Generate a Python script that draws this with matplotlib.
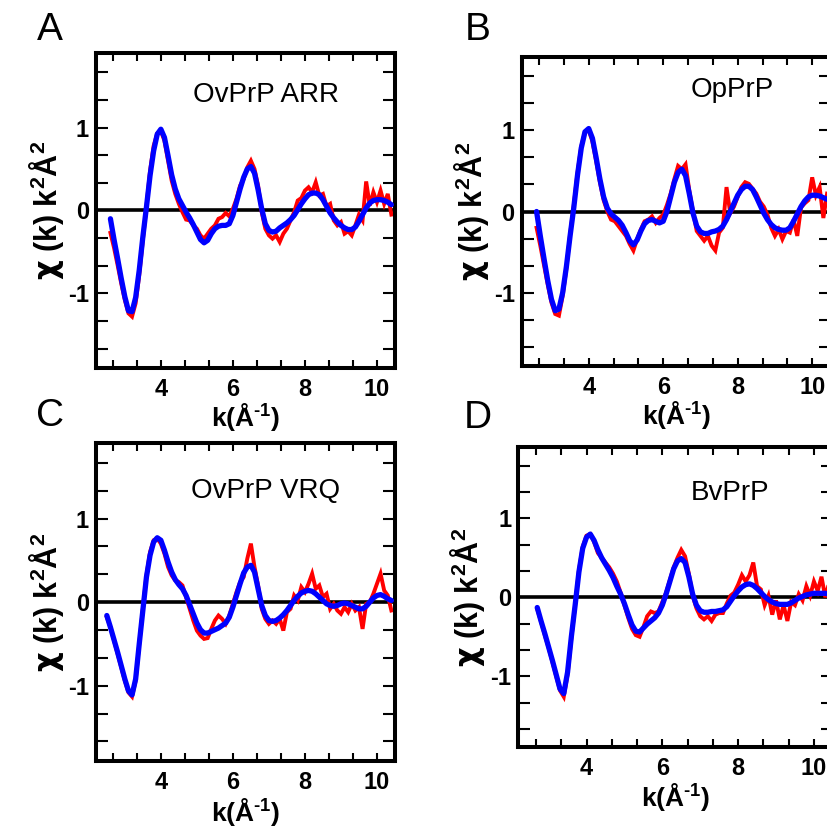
import numpy as np
import matplotlib
matplotlib.use("Agg")
import matplotlib.pyplot as plt
from matplotlib.ticker import MultipleLocator, FixedLocator

plt.rcParams['font.family'] = ['Liberation Sans', 'DejaVu Sans']
plt.rcParams['mathtext.fontset'] = 'custom'
plt.rcParams['mathtext.rm'] = 'Liberation Sans:bold'
plt.rcParams['mathtext.bf'] = 'Liberation Sans:bold'
plt.rcParams['mathtext.sf'] = 'DejaVu Sans:bold'
plt.rcParams['mathtext.default'] = 'rm'

# EXAFS chi(k)*k^2 : experimental (red) and fit (blue), sampled every 0.1 A^-1
panel_letters = ["A", "B", "C", "D"]
panel_titles = ["OvPrP ARR", "OpPrP", "OvPrP VRQ", "BvPrP"]
k_start = [2.6, 2.6, 2.5, 2.7]

fit_A = [-0.10, -0.35, -0.58, -0.82, -1.04, -1.21, -1.22, -1.05, -0.72, -0.32,
         0.04, 0.42, 0.72, 0.92, 0.98, 0.88, 0.66, 0.43, 0.26, 0.14,
         0.06, -0.02, -0.09, -0.17, -0.26, -0.35, -0.39, -0.36, -0.28, -0.22,
         -0.19, -0.18, -0.18, -0.16, -0.06, 0.10, 0.26, 0.40, 0.50, 0.53,
         0.45, 0.25, 0.02, -0.16, -0.24, -0.26, -0.25, -0.21, -0.18, -0.15,
         -0.11, -0.06, 0.01, 0.08, 0.14, 0.19, 0.21, 0.21, 0.19, 0.13,
         0.05, -0.03, -0.09, -0.14, -0.18, -0.21, -0.23, -0.23, -0.20, -0.13,
         -0.05, 0.03, 0.09, 0.12, 0.13, 0.13, 0.12, 0.10, 0.07]
exp_A = [-0.27, -0.45, -0.66, -0.88, -1.08, -1.24, -1.28, -1.12, -0.78, -0.36,
         0.05, 0.48, 0.78, 0.93, 0.96, 0.84, 0.60, 0.36, 0.20, 0.08,
         -0.02, -0.11, -0.12, -0.18, -0.22, -0.30, -0.34, -0.28, -0.22, -0.18,
         -0.10, -0.08, -0.03, -0.07, 0.02, 0.14, 0.30, 0.38, 0.52, 0.60,
         0.50, 0.30, -0.02, -0.22, -0.30, -0.34, -0.30, -0.38, -0.28, -0.22,
         -0.12, -0.02, 0.12, 0.15, 0.24, 0.28, 0.22, 0.34, 0.18, 0.20,
         0.05, 0.08, -0.12, -0.18, -0.14, -0.28, -0.25, -0.30, -0.18, -0.05,
         -0.12, 0.35, 0.06, 0.22, 0.10, 0.24, 0.08, 0.20, -0.05]

fit_B = [0.00, -0.30, -0.58, -0.85, -1.08, -1.22, -1.20, -1.00, -0.68, -0.30,
         0.05, 0.45, 0.78, 0.98, 1.02, 0.90, 0.66, 0.40, 0.18, 0.04,
         -0.03, -0.07, -0.11, -0.17, -0.26, -0.36, -0.41, -0.35, -0.24, -0.15,
         -0.11, -0.10, -0.12, -0.14, -0.12, 0.00, 0.18, 0.36, 0.48, 0.52,
         0.44, 0.22, -0.02, -0.18, -0.25, -0.27, -0.27, -0.25, -0.24, -0.22,
         -0.18, -0.10, 0.00, 0.10, 0.20, 0.27, 0.31, 0.31, 0.27, 0.18,
         0.08, -0.02, -0.10, -0.16, -0.20, -0.22, -0.23, -0.23, -0.20, -0.12,
         -0.03, 0.06, 0.13, 0.18, 0.20, 0.20, 0.19, 0.17, 0.15]
exp_B = [-0.20, -0.42, -0.66, -0.90, -1.12, -1.26, -1.28, -1.04, -0.70, -0.28,
         0.08, 0.48, 0.80, 0.98, 1.00, 0.86, 0.62, 0.36, 0.14, 0.00,
         -0.10, -0.12, -0.18, -0.24, -0.30, -0.40, -0.48, -0.34, -0.22, -0.12,
         -0.10, -0.06, -0.14, -0.08, -0.04, 0.08, 0.22, 0.40, 0.56, 0.52,
         0.58, 0.26, 0.00, -0.24, -0.30, -0.36, -0.30, -0.42, -0.48, -0.26,
         -0.20, 0.30, -0.02, 0.06, 0.18, 0.30, 0.36, 0.34, 0.28, 0.22,
         0.12, 0.06, -0.04, -0.20, -0.30, -0.22, -0.34, -0.24, -0.26, -0.10,
         -0.30, 0.05, 0.10, 0.14, 0.42, 0.20, 0.30, -0.08, 0.22]

fit_C = [-0.16, -0.30, -0.45, -0.60, -0.76, -0.92, -1.06, -1.11, -0.92, -0.50,
         -0.10, 0.30, 0.56, 0.72, 0.77, 0.74, 0.62, 0.48, 0.36, 0.27,
         0.21, 0.16, 0.08, -0.03, -0.14, -0.25, -0.33, -0.37, -0.37, -0.35,
         -0.33, -0.31, -0.28, -0.25, -0.18, -0.06, 0.08, 0.22, 0.35, 0.42,
         0.44, 0.36, 0.16, -0.04, -0.16, -0.22, -0.23, -0.22, -0.19, -0.15,
         -0.10, -0.04, 0.02, 0.07, 0.11, 0.13, 0.14, 0.13, 0.10, 0.06,
         0.02, -0.02, -0.04, -0.05, -0.04, -0.02, -0.01, -0.02, -0.04, -0.06,
         -0.08, -0.08, -0.05, 0.00, 0.05, 0.08, 0.09, 0.07, 0.04, 0.02]
exp_C = [-0.18, -0.30, -0.46, -0.62, -0.78, -0.94, -1.08, -1.13, -0.94, -0.50,
         -0.08, 0.32, 0.60, 0.74, 0.76, 0.70, 0.58, 0.42, 0.32, 0.26,
         0.24, 0.20, 0.06, -0.08, -0.22, -0.34, -0.40, -0.44, -0.43, -0.32,
         -0.22, -0.16, -0.20, -0.26, -0.16, -0.02, 0.12, 0.24, 0.30, 0.52,
         0.70, 0.42, 0.20, -0.08, -0.20, -0.26, -0.22, -0.26, -0.20, -0.34,
         -0.12, -0.08, 0.08, 0.02, 0.18, 0.12, 0.22, 0.34, 0.16, 0.20,
         0.06, 0.10, -0.08, -0.02, -0.10, -0.14, -0.06, -0.12, -0.02, -0.10,
         -0.06, -0.32, -0.02, 0.00, 0.10, 0.22, 0.34, 0.14, 0.08, -0.10]

fit_D = [-0.13, -0.30, -0.46, -0.63, -0.80, -0.98, -1.16, -1.22, -0.95, -0.50,
         -0.10, 0.32, 0.62, 0.76, 0.80, 0.72, 0.60, 0.50, 0.42, 0.34,
         0.25, 0.14, 0.04, -0.08, -0.22, -0.35, -0.43, -0.44, -0.39, -0.34,
         -0.30, -0.26, -0.20, -0.10, 0.04, 0.20, 0.36, 0.46, 0.49, 0.44,
         0.26, 0.04, -0.10, -0.17, -0.19, -0.19, -0.18, -0.18, -0.17, -0.16,
         -0.12, -0.05, 0.02, 0.08, 0.13, 0.16, 0.17, 0.15, 0.11, 0.06,
         0.01, -0.03, -0.06, -0.08, -0.09, -0.09, -0.09, -0.07, -0.04, -0.01,
         0.01, 0.03, 0.04, 0.05, 0.05, 0.05, 0.05, 0.04]
exp_D = [-0.15, -0.31, -0.48, -0.64, -0.82, -1.00, -1.18, -1.26, -0.98, -0.52,
         -0.10, 0.34, 0.64, 0.78, 0.80, 0.70, 0.56, 0.50, 0.44, 0.38,
         0.30, 0.20, 0.06, -0.10, -0.26, -0.40, -0.48, -0.50, -0.38, -0.24,
         -0.18, -0.20, -0.18, -0.06, 0.06, 0.22, 0.38, 0.50, 0.60, 0.52,
         0.30, 0.02, -0.14, -0.24, -0.28, -0.24, -0.30, -0.22, -0.20, -0.20,
         -0.08, 0.02, 0.06, 0.16, 0.28, 0.20, 0.28, 0.44, 0.14, 0.10,
         -0.10, 0.02, -0.22, -0.04, -0.28, -0.10, -0.30, -0.06, -0.10, 0.04,
         -0.04, 0.14, 0.02, 0.20, 0.08, 0.26, 0.00, 0.18]

fits = [fit_A, fit_B, fit_C, fit_D]
exps = [exp_A, exp_B, exp_C, exp_D]

x_major = [4, 6, 8, 10]
y_major = [-1, 0, 1]

# axes rectangles in figure fractions
rects = [(0.1161, 0.5550, 0.3615, 0.3810),
         (0.6308, 0.5574, 0.3738, 0.3737),
         (0.1161, 0.0798, 0.3615, 0.3842),
         (0.6267, 0.0964, 0.3804, 0.3628)]
title_pos = [(0.567, 0.867), (0.68, 0.893), (0.568, 0.85), (0.673, 0.847)]
ylabel_x = [-0.167, -0.161, -0.164, -0.160]
xlabel_y = [-0.155, -0.158, -0.160, -0.165]
letter_pos = [(50, 30), (478, 30), (50, 416), (478, 418)]

fig = plt.figure(figsize=(8.27, 8.27), dpi=100)

for i in range(4):
    ax = fig.add_axes(rects[i])
    n = len(fits[i])
    k = k_start[i] + 0.1 * np.arange(n)
    ax.axhline(0, color='black', lw=2.6, zorder=1)
    ax.plot(k, exps[i], color='#ff0000', lw=2.8, solid_joinstyle='miter', zorder=2)
    ax.plot(k, fits[i], color='#0000ff', lw=3.8, solid_capstyle='round',
            solid_joinstyle='round', zorder=3)
    ax.set_xlim(2.2, 10.5)
    ax.set_ylim(-1.9, 1.9)

    ax.xaxis.set_major_locator(FixedLocator(x_major))
    ax.xaxis.set_minor_locator(FixedLocator([4 + j * 2 / 3 for j in range(-2, 10)]))
    ax.yaxis.set_major_locator(FixedLocator(y_major))
    ax.yaxis.set_minor_locator(MultipleLocator(1 / 3))
    ax.set_xticklabels([str(v) for v in x_major])
    ax.set_yticklabels([str(v) for v in y_major])
    ax.tick_params(axis='x', which='both', direction='in', top=True, bottom=True,
                   length=5.5, width=1.5, pad=7)
    ax.tick_params(axis='y', which='both', direction='in', left=True, right=True,
                   length=8.5, width=1.5, pad=5)
    ax.tick_params(labelsize=17)
    for lab in ax.get_xticklabels() + ax.get_yticklabels():
        lab.set_fontweight('bold')
    for sp in ax.spines.values():
        sp.set_linewidth(2.9)

    ax.text(title_pos[i][0], title_pos[i][1], panel_titles[i], transform=ax.transAxes,
            ha='center', va='center', fontsize=20)
    ax.text(ylabel_x[i], 0.5, r'$\mathsf{\chi}$ (k) k$^2$Å$^2$', transform=ax.transAxes,
            rotation=90, ha='center', va='center', fontsize=22, fontweight='bold')
    ax.text(0.5, xlabel_y[i], r'k(Å$^{‐1}$)', transform=ax.transAxes,
            ha='center', va='center', fontsize=19, fontweight='bold')

    fig.text(letter_pos[i][0] / 827, 1 - letter_pos[i][1] / 827, panel_letters[i],
             ha='center', va='center', fontsize=28)

fig.savefig("out.png", dpi=100)
